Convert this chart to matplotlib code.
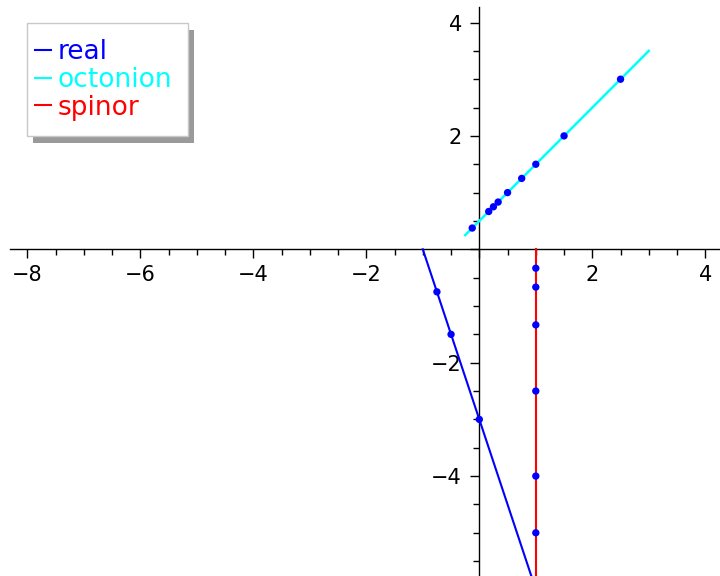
import matplotlib
matplotlib.use("Agg")
import matplotlib.pyplot as plt
from matplotlib.patches import Rectangle
from matplotlib.ticker import MultipleLocator, FuncFormatter

# segments (endpoints) and sample points for each family
real_x = [-1, 1]
real_y = [0, -6]
real_pts_x = [-0.75, -0.5, 0]
real_pts_y = [-0.75, -1.5, -3]

octonion_x = [-0.25, 3]
octonion_y = [0.25, 3.5]
octonion_pts_x = [-0.125, 1 / 6, 0.25, 1 / 3, 0.5, 0.75, 1, 1.5, 2.5]
octonion_pts_y = [0.375, 2 / 3, 0.75, 5 / 6, 1, 1.25, 1.5, 2, 3]

spinor_x = [1, 1]
spinor_y = [0, -6]
spinor_pts_x = [1, 1, 1, 1, 1, 1]
spinor_pts_y = [-1 / 3, -2 / 3, -4 / 3, -2.5, -4, -5]

labels = ["real", "octonion", "spinor"]
colors = ["#0000ff", "#00ffff", "#ff0000"]

W, H = 720, 576
fig = plt.figure(figsize=(W / 100, H / 100), dpi=100)
ax = fig.add_axes([0, 0, 1, 1])

ax.plot(real_x, real_y, color=colors[0], lw=1.5, label=labels[0], zorder=2)
ax.plot(octonion_x, octonion_y, color=colors[1], lw=1.8, label=labels[1], zorder=2)
ax.plot(spinor_x, spinor_y, color=colors[2], lw=1.5, label=labels[2], zorder=2)

all_px = real_pts_x + octonion_pts_x + spinor_pts_x
all_py = real_pts_y + octonion_pts_y + spinor_pts_y
ax.scatter(all_px, all_py, s=28, color="#0000ff", edgecolors="none", zorder=3)

ax.set_xlim(-8.483, 4.26)
ax.set_ylim(-5.762, 4.397)

# axes through the origin, Sage style
for side in ("top", "right"):
    ax.spines[side].set_visible(False)
ax.spines["left"].set_position("zero")
ax.spines["bottom"].set_position("zero")
ax.spines["bottom"].set_bounds(-8.3, 4.26)
ax.spines["left"].set_bounds(-5.762, 4.27)
for side in ("left", "bottom"):
    ax.spines[side].set_linewidth(1.0)
    ax.spines[side].set_zorder(1)

ax.xaxis.set_major_locator(MultipleLocator(2))
ax.xaxis.set_minor_locator(MultipleLocator(0.5))
ax.yaxis.set_major_locator(MultipleLocator(2))
ax.yaxis.set_minor_locator(MultipleLocator(0.5))

fmt = FuncFormatter(lambda v, pos: "" if abs(v) < 1e-9 else f"{v:g}".replace("-", "\u2212"))
ax.xaxis.set_major_formatter(fmt)
ax.yaxis.set_major_formatter(fmt)

ax.tick_params(which="major", direction="out", length=6.5, width=1, labelsize=15)
ax.tick_params(which="minor", direction="out", length=4, width=1)
ax.tick_params(axis="x", which="major", pad=5)
ax.tick_params(axis="y", which="major", pad=6)

# legend box and its drop shadow, placed in pixels
box_x, box_y, box_w, box_h = 27, 23, 161, 113
shadow = Rectangle(((box_x + 6) / W, 1 - (box_y + box_h + 7) / H), box_w / W, box_h / H,
                   transform=fig.transFigure, facecolor="#9a9a9a",
                   edgecolor="none", zorder=8, clip_on=False)
frame = Rectangle((box_x / W, 1 - (box_y + box_h) / H), box_w / W, box_h / H,
                  transform=fig.transFigure, facecolor="white",
                  edgecolor="#c8c8c8", linewidth=1.0, zorder=9, clip_on=False)
ax.add_artist(shadow)
ax.add_artist(frame)

leg = ax.legend(loc="upper left", bbox_to_anchor=(35 / W, 1 - 39 / H),
                bbox_transform=fig.transFigure, fontsize=19, frameon=False,
                handlelength=0.62, handletextpad=0.22, borderpad=0,
                labelspacing=0.07, borderaxespad=0)
for text, line in zip(leg.get_texts(), leg.get_lines()):
    text.set_color(line.get_color())
    line.set_linewidth(1.5)
leg.set_zorder(10)

fig.savefig("out.png", dpi=100)
